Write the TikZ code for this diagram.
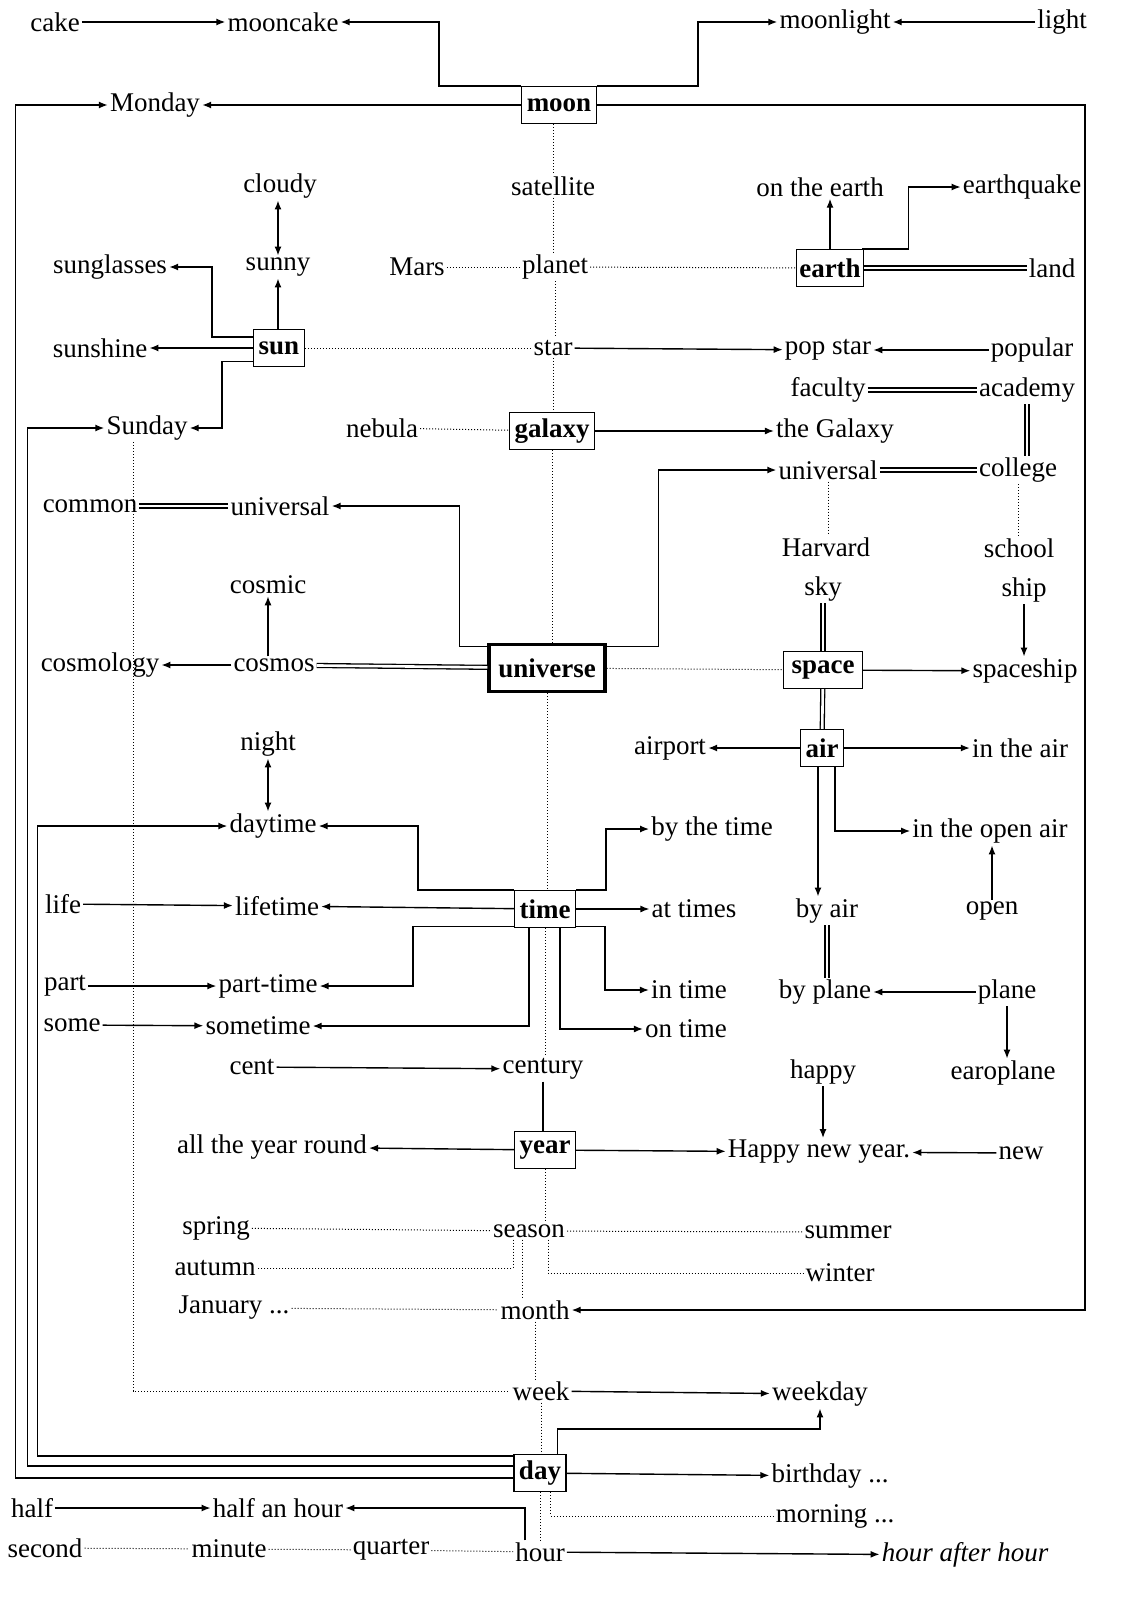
\documentclass[tikz,border=0pt]{standalone}
\usepackage{fontspec}
\setmainfont{Liberation Serif}
\usetikzlibrary{arrows.meta}

\begin{document}
\begin{tikzpicture}[x=1pt,y=-1pt,
        every node/.style={font=\fontsize{27}{31}\selectfont, inner sep=2pt},
        keybox/.style={draw, line width=1.4pt, font=\fontsize{27}{31}\selectfont\bfseries, inner xsep=5pt, minimum height=37pt},
        link/.style={line width=1.4pt},
        arr/.style={link, -{Latex[length=9pt,width=7pt]}},
        twoway/.style={link, {Latex[length=9pt,width=7pt]}-{Latex[length=9pt,width=7pt]}},
        same/.style={double, double distance=2.6pt, line width=1.3pt},
        rel/.style={dotted, line width=1pt}]
        \useasboundingbox (0,0) rectangle (1120,1609);

        % Define the words round moon and sun
        \node (cake) at (55,22) {cake};
        \node (mooncake) at (283,22) {mooncake};
        \node (moonlight) at (835,22) {moonlight};
        \node (light) at (1062,22) {light};
        \node (Monday) at (155,105) {Monday};
        \node[keybox] (moon) at (559,105) {moon};

        \node (cloudy) at (280,186) {cloudy};
        \node (satellite) at (553,186) {satellite};
        \node (ontheearth) at (820,187) {on the earth};
        \node (earthquake) at (1022,187) {earthquake};
        \node (sunglasses) at (110,267) {sunglasses};
        \node (sunny) at (278,267) {sunny};
        \node (Mars) at (417,267) {Mars};
        \node (planet) at (555,267) {planet};
        \node[keybox, inner xsep=3pt] (earth) at (830,268) {earth};
        \node (land) at (1052,268) {land};
        \node (sunshine) at (100,348) {sunshine};
        \node[keybox] (sun) at (279,348) {sun};
        \node (star) at (553,348) {star};
        \node (popstar) at (828,350) {pop star};
        \node (popular) at (1032,350) {popular};
        \node (faculty) at (828,390) {faculty};
        \node (academy) at (1027,390) {academy};
        \node (Sunday) at (147,428) {Sunday};
        \node (nebula) at (382,428) {nebula};
        \node[keybox] (galaxy) at (552,431) {galaxy};
        \node (theGalaxy) at (835,431) {the Galaxy};
        \node (univR) at (828,470) {universal};
        \node (college) at (1018,470) {college};
        \node (common) at (90,506) {common};
        \node (univL) at (280,506) {universal};
        \node (Harvard) at (826,547) {Harvard};
        \node (school) at (1019,548) {school};

        % Define the words round universe and space
        \node (cosmic) at (268,585) {cosmic};
        \node (sky) at (823,589) {sky};
        \node (ship) at (1024,590) {ship};
        \node (cosmology) at (100,665) {cosmology};
        \node (cosmos) at (274,665) {cosmos};
        \node[keybox, line width=3.8pt, inner xsep=9pt, minimum height=47pt] (universe) at (547,668) {universe};
        \node[keybox, inner xsep=8pt] (space) at (823,670) {space};
        \node (spaceship) at (1025,671) {spaceship};
        \node (night) at (268,744) {night};
        \node (airport) at (670,748) {airport};
        \node[keybox] (air) at (822,748) {air};
        \node (intheair) at (1020,748) {in the air};

        % Define the words round time and year
        \node (daytime) at (273,826) {daytime};
        \node (bythetime) at (712,829) {by the time};
        \node (openair) at (990,831) {in the open air};
        \node (life) at (63,904) {life};
        \node (lifetime) at (277,906) {lifetime};
        \node[keybox] (time) at (545,909) {time};
        \node (attimes) at (694,909) {at times};
        \node (byair) at (827,911) {by air};
        \node (open) at (992,911) {open};
        \node (part) at (65,986) {part};
        \node (parttime) at (268,986) {part-time};
        \node (intime) at (689,990) {in time};
        \node (byplane) at (825,992) {by plane};
        \node (plane) at (1007,992) {plane};
        \node (some) at (72,1025) {some};
        \node (sometime) at (258,1026) {sometime};
        \node (ontime) at (686,1029) {on time};
        \node (cent) at (252,1067) {cent};
        \node (century) at (543,1069) {century};
        \node (happy) at (823,1072) {happy};
        \node (earoplane) at (1003,1073) {earoplane};
        \node (allyear) at (272,1147) {all the year round};
        \node[keybox] (year) at (545,1150) {year};
        \node (happynew) at (819,1152) {Happy new year.};
        \node (new) at (1021,1153) {new};

        % Define the words round season and day
        \node (spring) at (216,1228) {spring};
        \node (season) at (529,1231) {season};
        \node (summer) at (848,1232) {summer};
        \node (autumn) at (215,1268) {autumn};
        \node (winter) at (840,1273) {winter};
        \node (January) at (234,1308) {January ...};
        \node (month) at (535,1310) {month};
        \node (week) at (541,1391) {week};
        \node (weekday) at (820,1394) {weekday};
        \node[keybox] (day) at (540,1473) {day};
        \node (birthday) at (830,1476) {birthday ...};
        \node (half) at (32,1508) {half};
        \node (halfhour) at (278,1508) {half an hour};
        \node (morning) at (835,1516) {morning ...};
        \node (second) at (45,1548) {second};
        \node (minute) at (229,1549) {minute};
        \node (quarter) at (391,1550) {quarter};
        \node (hour) at (540,1552) {hour};
        \node (hourafter) at (965,1555) {\itshape hour after hour};

        % Draw arrows round moon
        \draw[arr] (cake) -- (mooncake);
        \draw[arr] (moon.north west) -- ++(-82,0) |- (mooncake.east);
        \draw[arr] (moon.north east) -- ++(101,0) |- (moonlight.west);
        \draw[arr] (light) -- (moonlight);
        \draw[arr] (moon) -- (Monday);
        \draw[arr] (moon.east) -- ++(488,0) |- (month.east);

        % Draw arrows round sun and earth
        \draw[arr] (sunny.south |- sun.north) -- (sunny.south);
        \draw[twoway] (sunny.north) -- (sunny.north |- cloudy.south);
        \draw[arr] ([yshift=-8pt]sun.north west) -- ++(-41,0) |- (sunglasses.east);
        \draw[arr] (sun) -- (sunshine);
        \draw[arr] ([yshift=6pt]sun.south west) -- ++(-31,0) |- (Sunday.east);
        \draw[arr] (earth.north) -- (earth.north |- ontheearth.south);
        \draw[arr] ([xshift=-2pt]earth.north east) -- ++(46,0) |- (earthquake.west);
        \draw[same] (earth) -- (land);
        \draw[arr] (star) -- (popstar);
        \draw[arr] (popular) -- (popstar);
        \draw[same] (faculty) -- (academy);
        \draw[same] (academy.south) -- (academy.south |- college.north);
        \draw[same] (univR) -- (college);
        \draw[arr] (galaxy) -- (theGalaxy);

        % Draw arrows round universe, space and air
        \draw[arr] ([yshift=-4pt]universe.north west) -- ++(-28,0) |- (univL.east);
        \draw[arr] ([yshift=-4pt]universe.north east) -- ++(52,0) |- (univR.west);
        \draw[same] (common) -- (univL);
        \draw[same] (cosmos) -- (universe);
        \draw[arr] (cosmos) -- (cosmology);
        \draw[arr] (cosmic.south |- cosmos.north) -- (cosmic.south);
        \draw[same] (sky.south) -- (sky.south |- space.north);
        \draw[arr] (ship.south) -- (ship.south |- spaceship.north);
        \draw[arr] (space) -- (spaceship);
        \draw[same] (space) -- (air);
        \draw[arr] (air) -- (airport);
        \draw[arr] (air) -- (intheair);
        \draw[arr] ([xshift=-4pt]air.south) -- ([xshift=-4pt]air.south |- byair.north);
        \draw[arr] ([xshift=13pt]air.south) |- (openair.west);
        \draw[arr] (open.north) -- (open.north |- openair.south);
        \draw[same] (byair.south) -- (byair.south |- byplane.north);
        \draw[arr] (plane) -- (byplane);
        \draw[arr] (plane.south) -- (plane.south |- earoplane.north);

        % Draw arrows round time and year
        \draw[arr] (time.north west) -- ++(-96,0) |- (daytime.east);
        \draw[arr] (time.north east) -- ++(30,0) |- (bythetime.west);
        \draw[twoway] (night.south) -- (night.south |- daytime.north);
        \draw[arr] (life) -- (lifetime);
        \draw[arr] (time) -- (lifetime);
        \draw[arr] (time) -- (attimes);
        \draw[arr] ([yshift=2pt]time.south west) -- ++(-101,0) |- (parttime.east);
        \draw[arr] ([xshift=15pt]time.south west) |- (sometime.east);
        \draw[arr] ([yshift=2pt]time.south east) -- ++(29,0) |- (intime.west);
        \draw[arr] ([xshift=-16pt]time.south east) |- (ontime.west);
        \draw[arr] (part) -- (parttime);
        \draw[arr] (some) -- (sometime);
        \draw[arr] (cent) -- (century);
        \draw[link] (century.south) -- (century.south |- year.north);
        \draw[arr] (year) -- (allyear);
        \draw[arr] (year) -- (happynew);
        \draw[arr] (happy.south) -- (happy.south |- happynew.north);
        \draw[arr] (new) -- (happynew);

        % Draw arrows round day
        \draw[arr] (week) -- (weekday);
        \draw[arr] ([xshift=-9pt]day.north east) -- ++(0,-25) -| (weekday.south);
        \draw[arr] (day) -- (birthday);
        \draw[arr] ([yshift=-2pt]day.north west) -- ++(-476,0) |- (daytime.west);
        \draw[arr] ([yshift=7pt]day.west) -- ++(-486,0) |- (Sunday.west);
        \draw[arr] ([yshift=-5pt]day.west) -- ++(-498,0) |- (Monday.west);
        \draw[arr] (half) -- (halfhour);
        \draw[arr] ([xshift=-15pt]hour.north) |- (halfhour.east);
        \draw[arr] (hour) -- (hourafter);

        % Draw dotted relations
        \draw[rel] (satellite |- moon.south) -- (satellite.north);
        \draw[rel] (satellite.south) -- (satellite.south |- planet.north);
        \draw[rel] (planet.south) -- (planet.south |- star.north);
        \draw[rel] (star.south) -- (star.south |- galaxy.north);
        \draw[rel] (galaxy.south) -- (galaxy.south |- universe.north);
        \draw[rel] (universe.south) -- (universe.south |- time.north);
        \draw[rel] (time.south) -- (time.south |- century.north);
        \draw[rel] (year.south) -- (year.south |- season.north);
        \draw[rel] ([xshift=-7pt]season.south) -- ([xshift=-7pt]season.south |- month.north);
        \draw[rel] (month.south) -- (month.south |- week.north);
        \draw[rel] (week.south) -- (week.south |- day.north);
        \draw[rel] (day.south) -- (day.south |- hour.north);
        \draw[rel] (Mars) -- (planet);
        \draw[rel] (planet) -- (earth);
        \draw[rel] (sun) -- (star);
        \draw[rel] (nebula) -- (galaxy);
        \draw[rel] (univR.south) -- (univR.south |- Harvard.north);
        \draw[rel] (college.south) -- (college.south |- school.north);
        \draw[rel] (universe) -- (space);
        \draw[rel] ([xshift=-14pt]Sunday.south) |- (week.west);
        \draw[rel] (spring) -- (season);
        \draw[rel] (season) -- (summer);
        \draw[rel] ([xshift=-16pt]season.south) |- (autumn.east);
        \draw[rel] ([xshift=19pt]season.south) |- (winter.west);
        \draw[rel] (January) -- (month);
        \draw[rel] ([xshift=-16pt]day.south east) |- (morning.west);
        \draw[rel] (second) -- (minute);
        \draw[rel] (minute) -- (quarter);
        \draw[rel] (quarter) -- (hour);
\end{tikzpicture}
\end{document}
